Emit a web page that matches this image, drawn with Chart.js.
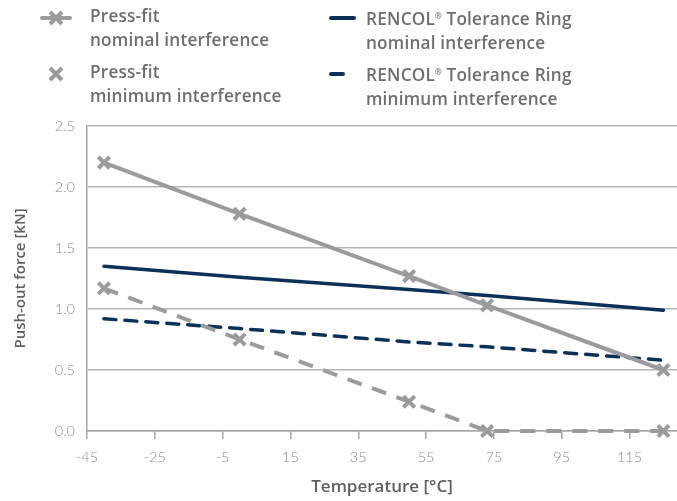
<!DOCTYPE html>
<html>
<head>
<meta charset="utf-8">
<script src="https://cdn.jsdelivr.net/npm/chart.js@4.4.1/dist/chart.umd.min.js"></script>
<style>
  html, body { margin: 0; padding: 0; background: #fff; }
  #wrap { position: relative; width: 677px; height: 501px; overflow: hidden; }
  #chart { position: absolute; left: 0; top: 0; }
  .lg { position: absolute; font-family: "Open Sans", "Lato", sans-serif; font-weight: 600;
        font-size: 17.2px; line-height: 24px; letter-spacing: 0.2px; color: #6e6e6e; }
  .lg canvas { position: absolute; }
  .lg .txt { position: absolute; white-space: nowrap; }
  sup { font-size: 8px; vertical-align: 6px; }
</style>
</head>
<body>
<div id="wrap">
  <canvas id="chart" width="677" height="501"></canvas>
  <div id="legend"></div>
</div>
<script>
// Temperatures (°C) at which push-out force was measured
const temperatures = [-40, 0, 50, 73, 125];

// Push-out force in kN
const pressFitNominal = [2.20, 1.78, 1.27, 1.03, 0.50];
const pressFitMinimum = [1.17, 0.75, 0.24, 0.00, 0.00];
const rencolNominal   = [1.35, 1.26, 1.16, 1.11, 0.99];
const rencolMinimum   = [0.92, 0.84, 0.73, 0.69, 0.58];

// Axis ticks
const xTickValues = [-45, -25, -5, 15, 35, 55, 75, 95, 115];
const yTickValues = [0, 0.5, 1.0, 1.5, 2.0, 2.5];

const seriesNames = [
  ["Press-fit", "nominal interference"],
  ["RENCOL\u00AE Tolerance Ring", "nominal interference"],
  ["Press-fit", "minimum interference"],
  ["RENCOL\u00AE Tolerance Ring", "minimum interference"]
];

const GREY = "#9b9b9d";
const NAVY = "#0b3158";

function toPoints(ys) { return temperatures.map((t, i) => ({ x: t, y: ys[i] })); }

const crossStyle = {
  pointStyle: "crossRot", pointRadius: 8, pointHoverRadius: 8,
  pointBorderWidth: 4, pointBorderColor: GREY, pointBackgroundColor: GREY, clip: false
};

const datasets = [
  Object.assign({ label: seriesNames[0].join(" "), data: toPoints(pressFitNominal),
    borderColor: GREY, borderWidth: 4 }, crossStyle),
  Object.assign({ label: seriesNames[2].join(" "), data: toPoints(pressFitMinimum),
    borderColor: GREY, borderWidth: 4, borderDash: [15, 11] }, crossStyle),
  { label: seriesNames[1].join(" "), data: toPoints(rencolNominal),
    borderColor: NAVY, borderWidth: 3.5, pointRadius: 0, borderCapStyle: "round", clip: false },
  { label: seriesNames[3].join(" "), data: toPoints(rencolMinimum),
    borderColor: NAVY, borderWidth: 3.5, pointRadius: 0, borderDash: [12, 9], borderCapStyle: "round", clip: false }
];

const tickFont = { family: "Lato, 'Open Sans', sans-serif", size: 14.5, weight: 300 };
const xTitleFont = { family: "'Open Sans', Lato, sans-serif", size: 17, weight: 600 };
const yTitleFont = { family: "'Open Sans', Lato, sans-serif", size: 15, weight: 600 };

new Chart(document.getElementById("chart"), {
  type: "line",
  data: { datasets },
  options: {
    responsive: false,
    animation: false,
    layout: { autoPadding: false, padding: { top: 126, right: 0, bottom: 0, left: 8 } },
    plugins: { legend: { display: false }, tooltip: { enabled: false } },
    scales: {
      x: {
        type: "linear",
        min: -45, max: 129,
        afterBuildTicks: s => { s.ticks = xTickValues.map(v => ({ value: v })); },
        afterFit: s => { s.height = 70; s.paddingLeft = 0; s.paddingRight = 0; },
        border: { color: "#a6a6a6", width: 1.5 },
        grid: { drawOnChartArea: false, drawTicks: true, tickLength: 8, color: "#a6a6a6", lineWidth: 1.5 },
        ticks: { color: "#8a8a8a", font: tickFont, padding: 10, maxRotation: 0, autoSkip: false },
        title: { display: true, text: "Temperature [\u00B0C]", color: "#5f5f5f", font: xTitleFont, padding: { top: 7 } }
      },
      y: {
        min: 0, max: 2.5,
        afterBuildTicks: s => { s.ticks = yTickValues.map(v => ({ value: v })); },
        afterFit: s => { s.width = 79; },
        border: { color: "#a6a6a6", width: 1.5 },
        grid: { color: "#b4b4b4", lineWidth: 1.5, drawTicks: false },
        ticks: { color: "#8a8a8a", font: tickFont, padding: 12, callback: v => v.toFixed(1) },
        title: { display: true, text: "Push-out force [kN]", color: "#5f5f5f", font: yTitleFont, padding: { bottom: 14 } }
      }
    }
  }
});

// Legend drawn as HTML with small canvas keys
const legendSpots = [
  { left: 40, top: 6 }, { left: 328, top: 6 }, { left: 40, top: 62 }, { left: 328, top: 62 }
];
const legendKeys = ["lineCross", "line", "cross", "dash"];
const legendEl = document.getElementById("legend");
seriesNames.forEach((name, i) => {
  const box = document.createElement("div");
  box.className = "lg";
  box.style.left = legendSpots[i].left + "px";
  box.style.top = legendSpots[i].top + "px";
  const c = document.createElement("canvas");
  c.width = 34; c.height = 20;
  c.style.left = "0px"; c.style.top = "2px";
  const g = c.getContext("2d");
  const kind = legendKeys[i];
  g.lineCap = "round";
  if (kind === "lineCross" || kind === "cross") {
    g.strokeStyle = GREY;
    if (kind === "lineCross") {
      g.lineWidth = 4; g.beginPath(); g.moveTo(2, 10); g.lineTo(30, 10); g.stroke();
    }
    g.lineWidth = 4; g.lineCap = "butt";
    g.beginPath(); g.moveTo(10, 4); g.lineTo(22, 16); g.moveTo(22, 4); g.lineTo(10, 16); g.stroke();
  } else {
    g.strokeStyle = NAVY; g.lineWidth = 4;
    g.beginPath();
    if (kind === "line") { g.moveTo(3, 10); g.lineTo(26, 10); }
    else { g.moveTo(3, 10); g.lineTo(15, 10); }
    g.stroke();
  }
  box.appendChild(c);
  const t = document.createElement("div");
  t.className = "txt";
  t.style.left = (i % 2 === 0 ? 50 : 38) + "px";
  t.style.top = "-2px";
  const first = name[0].replace("\u00AE", "<sup>\u00AE</sup>");
  t.innerHTML = first + "<br>" + name[1];
  box.appendChild(t);
  legendEl.appendChild(box);
});
</script>
</body>
</html>
